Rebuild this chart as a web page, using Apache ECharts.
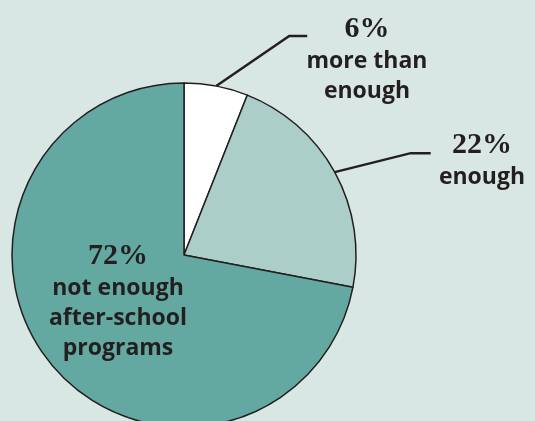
<!DOCTYPE html>
<html>
<head>
<meta charset="utf-8">
<script src="https://cdn.jsdelivr.net/npm/echarts@6/dist/echarts.min.js"></script>
<style>
  html, body { margin: 0; padding: 0; background: #d9e7e4; }
  #chart { width: 535px; height: 421px; }
</style>
</head>
<body>
<div id="chart"></div>
<script>
// Survey answers: is there enough after-school programming?
const categories = ['more than\nenough', 'enough', 'not enough\nafter-school\nprograms'];
const shares = [6, 22, 72];
const sliceColors = ['#ffffff', '#abcfc8', '#63a9a1'];

// Where each label block sits (top-centre), and the elbow of each leader line
const labelSpots = [
  { x: 367, y: 12 },
  { x: 482, y: 128 },
  { x: 118, y: 239 }
];
const leaderElbows = [
  [[73, -50], [91, -50]],
  [[76, -19], [96, -19]],
  null
];

const chart = echarts.init(document.getElementById('chart'), null, { renderer: 'canvas' });

const pieData = categories.map((name, i) => ({
  name: name,
  value: shares[i],
  itemStyle: { color: sliceColors[i] },
  label: { position: leaderElbows[i] ? 'outside' : 'inside' },
  labelLine: { show: !!leaderElbows[i] }
}));

chart.setOption({
  backgroundColor: '#d9e7e4',
  animation: false,
  series: [{
    type: 'pie',
    center: [184, 255],
    radius: 172,
    startAngle: 90,
    clockwise: true,
    avoidLabelOverlap: false,
    data: pieData,
    itemStyle: { borderColor: '#231f20', borderWidth: 1.5 },
    labelLine: {
      show: true,
      length: 20,
      length2: 20,
      lineStyle: { color: '#231f20', width: 2.5 }
    },
    label: {
      show: true,
      color: '#231f20',
      align: 'center',
      formatter: p => '{p|' + p.value + '%}\n' +
        p.name.split('\n').map(s => '{t|' + s + '}').join('\n'),
      rich: {
        p: { fontFamily: 'Liberation Serif', fontWeight: 'bold', fontSize: 30, lineHeight: 34, color: '#231f20', align: 'center' },
        t: { fontFamily: 'Open Sans', fontWeight: 'bold', fontSize: 23, lineHeight: 30, color: '#231f20', align: 'center' }
      }
    },
    labelLayout: function (params) {
      const i = params.dataIndex;
      const out = {
        x: labelSpots[i].x,
        y: labelSpots[i].y,
        align: 'center',
        verticalAlign: 'top'
      };
      if (leaderElbows[i] && params.labelLinePoints) {
        const s = params.labelLinePoints[0];
        out.labelLinePoints = [
          [s[0], s[1]],
          [s[0] + leaderElbows[i][0][0], s[1] + leaderElbows[i][0][1]],
          [s[0] + leaderElbows[i][1][0], s[1] + leaderElbows[i][1][1]]
        ];
      }
      return out;
    }
  }]
});
</script>
</body>
</html>
